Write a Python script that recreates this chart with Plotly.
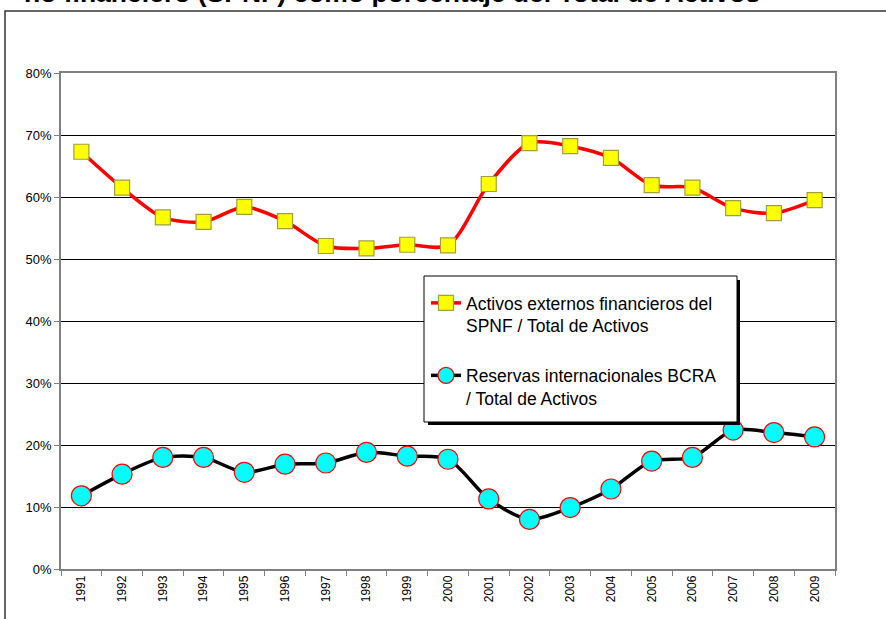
import plotly.graph_objects as go

years = [str(y) for y in range(1991, 2010)]
activos_spnf = [67.3, 61.5, 56.7, 56.0, 58.4, 56.1, 52.1, 51.7, 52.3, 52.2,
                62.1, 68.7, 68.2, 66.3, 61.9, 61.5, 58.2, 57.4, 59.5]
reservas_bcra = [11.8, 15.3, 18.0, 18.0, 15.6, 16.9, 17.1, 18.8, 18.2, 17.7,
                 11.3, 8.0, 9.9, 12.9, 17.4, 18.0, 22.4, 22.0, 21.3]
y_ticks = [0, 10, 20, 30, 40, 50, 60, 70, 80]
y_tick_labels = [f"{v}%" for v in y_ticks]

name_activos = "Activos externos financieros del<br>SPNF / Total de Activos"
name_reservas = "Reservas internacionales BCRA<br>/ Total de Activos"
title_text = "no financiero (SPNF) como porcentaje del Total de Activos"

W, H = 886, 619
L, R, T, B = 61, 835, 73, 569
FONT = "Arial, Liberation Sans, sans-serif"


def px_x(p):
    return (p - L) / (R - L)


def px_y(p):
    return (B - p) / (B - T)


fig = go.Figure()
fig.add_trace(go.Scatter(
    x=years, y=activos_spnf, name=name_activos, mode="lines+markers",
    line=dict(color="#ff0000", width=3.5, shape="spline", smoothing=0.8),
    marker=dict(symbol="square", size=15, color="#ffff00",
                line=dict(color="#a0a040", width=1.2)),
    legendgroup="a",
))
fig.add_trace(go.Scatter(
    x=years, y=reservas_bcra, name=name_reservas, mode="lines+markers",
    line=dict(color="#000000", width=3.5, shape="spline", smoothing=0.8),
    marker=dict(symbol="circle", size=20, color="#00ffff",
                line=dict(color="#ff0000", width=1.2)),
    legendgroup="b",
))

shapes = [
    # outer chart frame
    dict(type="rect", xref="paper", yref="paper",
         x0=px_x(5), x1=px_x(1200), y0=px_y(1000), y1=px_y(11),
         line=dict(color="#333333", width=1.5), fillcolor="rgba(0,0,0,0)",
         layer="below"),
    # legend shadow
    dict(type="rect", xref="paper", yref="paper",
         x0=px_x(428), x1=px_x(740), y0=px_y(425), y1=px_y(280),
         line=dict(width=0), fillcolor="#000000", layer="above"),
    # legend box
    dict(type="rect", xref="paper", yref="paper",
         x0=px_x(424), x1=px_x(737), y0=px_y(422), y1=px_y(276),
         line=dict(color="#000000", width=1), fillcolor="#ffffff",
         layer="above"),
]

fig.update_layout(
    width=W, height=H,
    margin=dict(l=L, r=W - R, t=T, b=H - B, autoexpand=False),
    paper_bgcolor="white", plot_bgcolor="white",
    font=dict(family=FONT, color="#000000"),
    shapes=shapes,
    showlegend=True,
    legend=dict(
        x=px_x(426), y=px_y(285), xanchor="left", yanchor="top",
        bgcolor="rgba(0,0,0,0)", borderwidth=0,
        font=dict(family=FONT, size=17.5, color="#000000"),
        tracegroupgap=24, valign="top", itemwidth=30,
    ),
    annotations=[dict(
        text=f"<b>{title_text}</b>", xref="paper", yref="paper",
        x=px_x(762), y=px_y(10), xanchor="right", yanchor="bottom",
        showarrow=False, font=dict(family=FONT, size=26.5, color="#000000"),
    )],
    xaxis=dict(
        type="category", range=[-0.5, 18.5], tickangle=-90, showgrid=False,
        ticks="outside", tickson="boundaries", ticklen=5,
        tickcolor="#808080", showline=True, linecolor="#808080",
        linewidth=1.5, mirror=True,
        tickfont=dict(family=FONT, size=12, color="#000000"),
    ),
    yaxis=dict(
        range=[0, 80], tickvals=y_ticks, ticktext=y_tick_labels,
        showgrid=True, gridcolor="#000000", gridwidth=1,
        ticks="outside", ticklen=5, tickcolor="#808080",
        showline=True, linecolor="#808080", linewidth=1.5, mirror=True,
        zeroline=False,
        tickfont=dict(family=FONT, size=13, color="#000000"),
    ),
)

fig.write_html("out.html",
               config={"displayModeBar": False},
               post_script="document.body.style.margin='0';")
